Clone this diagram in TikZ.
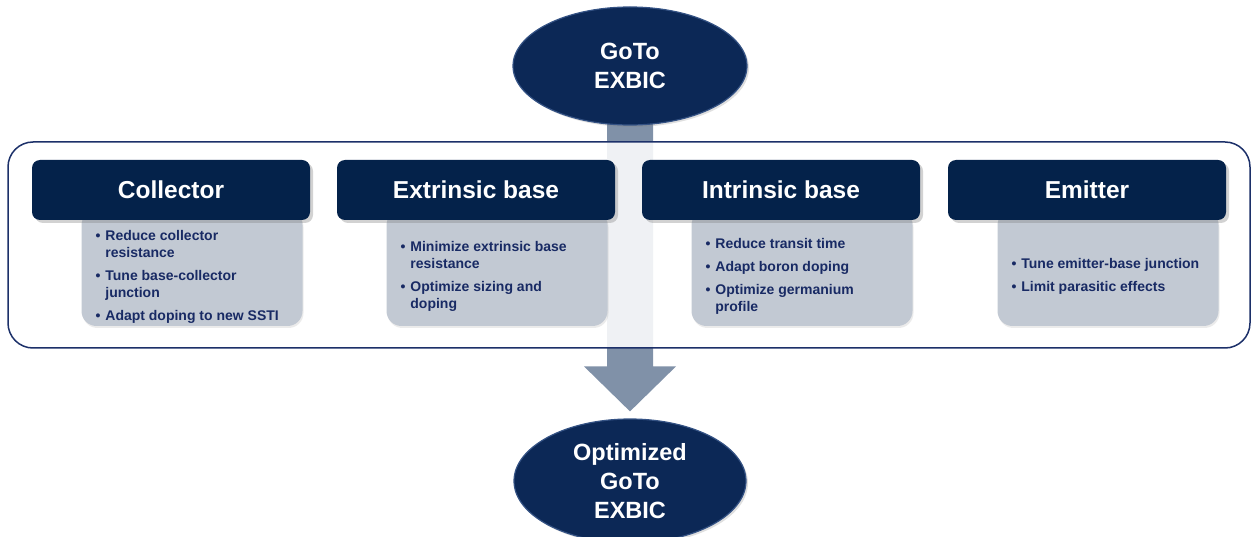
\documentclass[tikz,border=0pt]{standalone}
\usepackage{fontspec}
\setmainfont{Liberation Sans}
\usetikzlibrary{positioning,calc,shapes.geometric,shadows,backgrounds}

\definecolor{headnavy}{RGB}{4,34,74}
\definecolor{ovalnavy}{RGB}{12,40,86}
\definecolor{ovalrim}{RGB}{52,82,132}
\definecolor{itemtext}{RGB}{24,42,100}
\definecolor{itemfill}{RGB}{194,201,211}
\definecolor{shaftgray}{RGB}{128,145,168}
\definecolor{framenavy}{RGB}{28,48,105}

% bullet list with hanging lines
\newcommand{\itemlist}[1]{\begin{tabular}{@{}l@{\hspace{5pt}}l@{}}#1\end{tabular}}

\begin{document}
\begin{tikzpicture}[x=1pt,y=-1pt,
  oval/.style={ellipse, fill=ovalnavy, draw=ovalrim, line width=1.2pt,
    minimum width=234pt, minimum height=118pt, inner sep=0pt, align=center,
    text=white, font=\fontsize{23.5}{29}\selectfont\bfseries,
    drop shadow={shadow xshift=2pt, shadow yshift=-2pt, opacity=0.25}},
  header/.style={rectangle, rounded corners=8pt, fill=headnavy,
    minimum width=278pt, minimum height=60pt, text=white,
    font=\fontsize{24.5}{29}\selectfont\bfseries,
    drop shadow={shadow xshift=3pt, shadow yshift=-3pt, opacity=0.35}},
  itembox/.style={rectangle, rounded corners=15pt, fill=itemfill,
    minimum width=221pt, minimum height=116pt,
    drop shadow={shadow xshift=1pt, shadow yshift=-2pt, opacity=0.15}},
  itemtext/.style={anchor=west, inner sep=0pt, text=itemtext,
    font=\fontsize{14}{17}\selectfont\bfseries},
  frame/.style={draw=framenavy, line width=1.5pt, rounded corners=25pt,
    fill=white, fill opacity=0.88},
  shaft/.style={fill=shaftgray}]
\useasboundingbox (0,0) rectangle (1256,537);

%% Start and result ovals
\node[oval] (goto) at (630,66) {GoTo\\EXBIC};
\node[oval, minimum width=232pt, minimum height=124pt] (opt) at (630,481)
  {Optimized\\GoTo\\EXBIC};
\coordinate (tip) at ($(opt.north)+(0,-7)$);

%% Block arrow behind the frame
\begin{scope}[on background layer]
\fill[shaft] ($(goto.center)+(-23,0)$) -- ($(tip)+(-23,-45)$)
  -- ($(tip)+(-46,-45)$) -- (tip) -- ($(tip)+(46,-45)$)
  -- ($(tip)+(23,-45)$) -- ($(goto.center)+(23,0)$) -- cycle;
\draw[frame] (8,142) rectangle (1250,348);
\end{scope}

%% Collector
\node[header] (colhead) at (171,190) {Collector};
\begin{scope}[on background layer]
\node[itembox] (colbox) at ($(colhead.center)+(21,78)$) {};
\end{scope}
\node[itemtext] (colitems) at ($(colbox.west)+(14,9)$) {\itemlist{
  \textbullet & Reduce collector\\ & resistance\\[6pt]
  \textbullet & Tune base-collector\\ & junction\\[6pt]
  \textbullet & Adapt doping to new SSTI}};

%% Extrinsic base
\node[header] (exthead) at (476,190) {Extrinsic base};
\begin{scope}[on background layer]
\node[itembox] (extbox) at ($(exthead.center)+(21,78)$) {};
\end{scope}
\node[itemtext] (extitems) at ($(extbox.west)+(14,9)$) {\itemlist{
  \textbullet & Minimize extrinsic base\\ & resistance\\[6pt]
  \textbullet & Optimize sizing and\\ & doping}};

%% Intrinsic base
\node[header] (inthead) at (781,190) {Intrinsic base};
\begin{scope}[on background layer]
\node[itembox] (intbox) at ($(inthead.center)+(21,78)$) {};
\end{scope}
\node[itemtext] (intitems) at ($(intbox.west)+(14,9)$) {\itemlist{
  \textbullet & Reduce transit time\\[6pt]
  \textbullet & Adapt boron doping\\[6pt]
  \textbullet & Optimize germanium\\ & profile}};

%% Emitter
\node[header] (emihead) at (1087,190) {Emitter};
\begin{scope}[on background layer]
\node[itembox] (emibox) at ($(emihead.center)+(21,78)$) {};
\end{scope}
\node[itemtext] (emiitems) at ($(emibox.west)+(14,9)$) {\itemlist{
  \textbullet & Tune emitter-base junction\\[6pt]
  \textbullet & Limit parasitic effects}};
\end{tikzpicture}
\end{document}
